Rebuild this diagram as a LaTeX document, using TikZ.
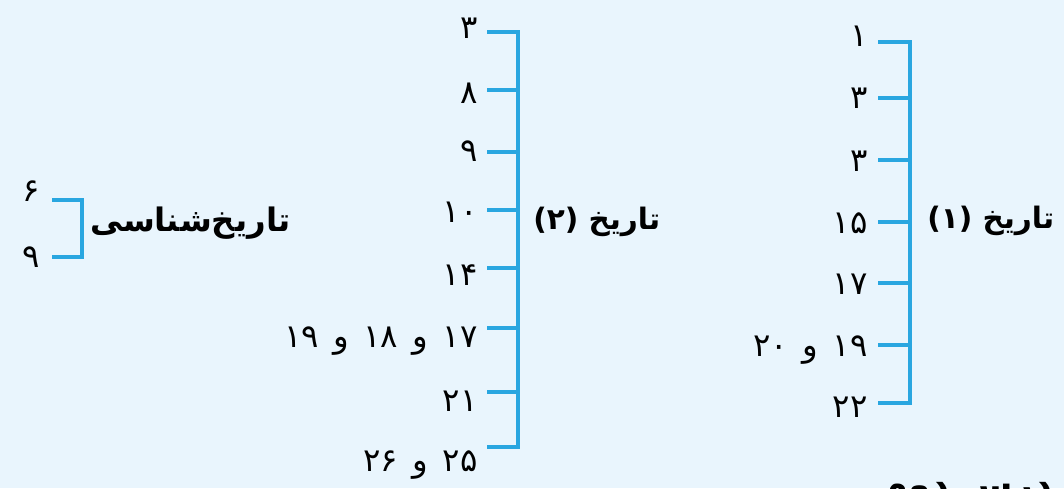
\documentclass[tikz,border=0pt]{standalone}
\usepackage{fontspec}
\usepackage{tikz}
\usetikzlibrary{positioning}
\newfontfamily\arabicfont[Script=Arabic]{DejaVu Sans}
\TeXXeTstate=1
\definecolor{bgblue}{RGB}{233,245,253}
\definecolor{brblue}{RGB}{41,166,224}
\newcommand{\rtlnum}[1]{\spaceskip=0.45em\relax\beginR#1\endR}
\tikzset{
  num/.style={anchor=base east, inner sep=0pt,
    font=\arabicfont\fontsize{23}{26}\selectfont},
  title/.style={anchor=base west, inner sep=0pt,
    font=\arabicfont\bfseries\fontsize{21}{25}\selectfont},
  brk/.style={draw=brblue, line width=2.8pt, line join=miter}
}

\begin{document}
\begin{tikzpicture}[x=0.025cm, y=-0.025cm]
  \clip (0,0) rectangle (1064,488);
  \fill[bgblue] (0,0) rectangle (1064,488);

  % spines of the brackets
  \coordinate (s1) at (910,0);
  \coordinate (s2) at (518,0);
  \coordinate (s3) at (82,0);

  % Bracket 1
  \foreach \n/\ly/\ty/\t in {1/35/42/۱, 2/97/98/۳, 3/160/160/۳, 4/222/222/۱۵,
      5/283/283/۱۷, 6/345/345/{۱۹ و ۲۰}, 7/406/403/۲۲} {
    \coordinate (ta\n) at (878,\ty);
    \node[num] (a\n) at (868,\ly+11) {\rtlnum{\t}};
  }
  \draw[brk] (ta1) -- (ta1 -| s1) -- (ta7 -| s1) -- (ta7);
  \foreach \n in {2,...,6} \draw[brk] (ta\n) -- (ta\n -| s1);
  \node[title] (h1) at (927,228) {\beginR تاریخ (۱)\endR};

  % Bracket 2
  \foreach \n/\ly/\ty/\t in {1/27/32/۳, 2/92/90/۸, 3/150/152/۹, 4/211/210/۱۰,
      5/274/268/۱۴, 6/336/328/{۱۷ و ۱۸ و ۱۹}, 7/400/392/۲۱, 8/460/447/{۲۵ و ۲۶}} {
    \coordinate (tb\n) at (487,\ty);
    \node[num] (b\n) at (478,\ly+11) {\rtlnum{\t}};
  }
  \draw[brk] (tb1) -- (tb1 -| s2) -- (tb8 -| s2) -- (tb8);
  \foreach \n in {2,...,7} \draw[brk] (tb\n) -- (tb\n -| s2);
  \node[title] (h2) at (533,229) {\beginR تاریخ (۲)\endR};

  % Bracket 3
  \coordinate (tc1) at (52,200);
  \coordinate (tc2) at (52,257);
  \node[num] (c1) at (40,190+11) {\rtlnum{۶}};
  \node[num] (c2) at (40,256+11) {\rtlnum{۹}};
  \draw[brk] (tc1) -- (tc1 -| s3) -- (tc2 -| s3) -- (tc2);
  \node[title, font=\arabicfont\bfseries\fontsize{23}{27}\selectfont]
    (h3) at (90,231) {\beginR تاریخ‌شناسی\endR};

  % heading cut by the lower edge
  \node[title, anchor=base east, font=\arabicfont\bfseries\fontsize{26}{30}\selectfont]
    (next) at (1053,497) {\beginR درس دوم\endR};
\end{tikzpicture}
\end{document}
